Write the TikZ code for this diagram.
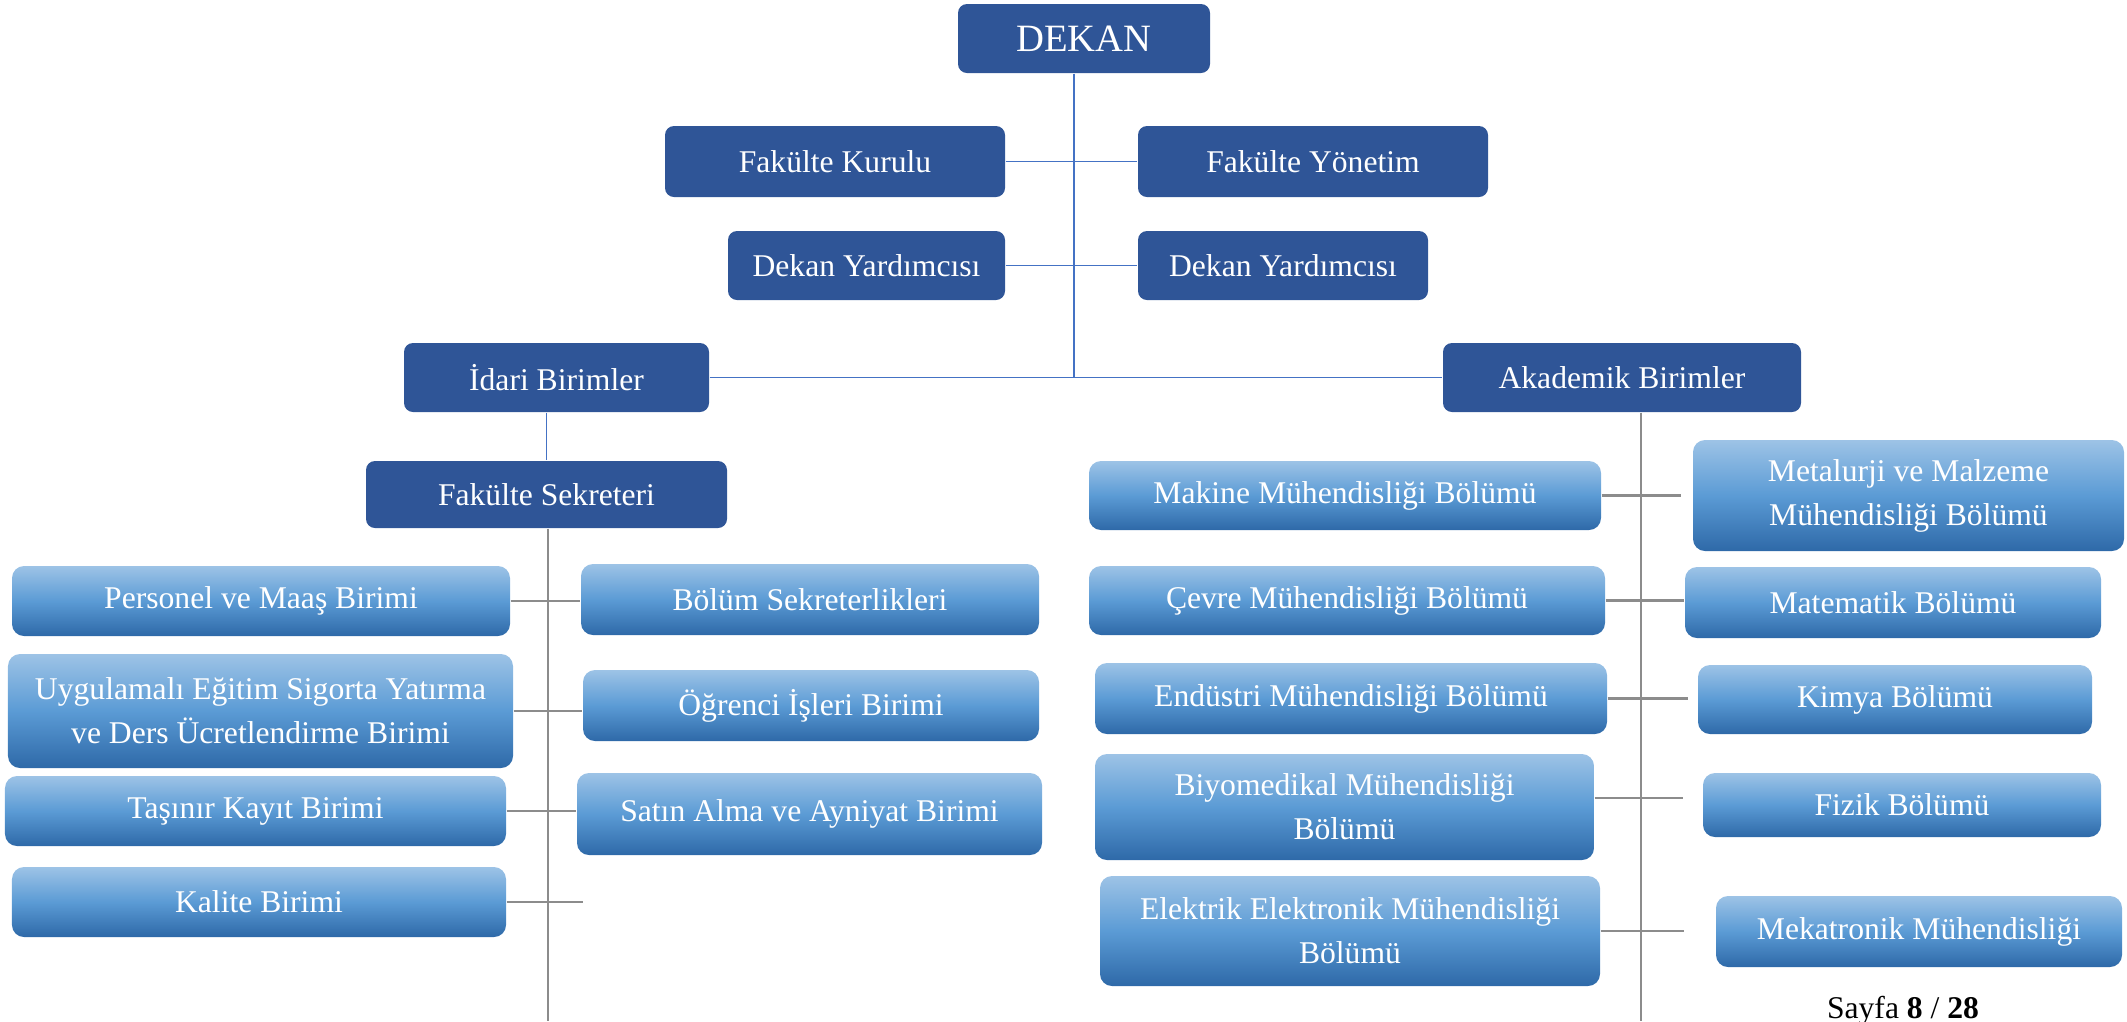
\documentclass[tikz,border=0pt]{standalone}
\usepackage{fontspec}
\setmainfont{Liberation Serif}
\usepackage{xcolor}
\usepackage{tikz}
\usetikzlibrary{positioning,calc}

\definecolor{deanblue}{HTML}{2F5597}
\definecolor{unittop}{HTML}{9DC3E6}
\definecolor{unitmid}{HTML}{5B9BD5}
\definecolor{unitbot}{HTML}{2E69A8}
\definecolor{linkblue}{HTML}{4472C4}
\definecolor{rulegray}{HTML}{8C8C8C}

\begin{document}
\begin{tikzpicture}[
    head/.style={rectangle, rounded corners=0.09cm, fill=deanblue, text=white, align=center, inner sep=0pt, font=\fontsize{9}{11}\selectfont},
    unit/.style={rectangle, rounded corners=0.12cm, top color=unittop, bottom color=unitbot, middle color=unitmid, text=white, align=center, inner sep=0pt, font=\fontsize{9}{12.5}\selectfont},
    link/.style={draw=linkblue, line width=0.5pt},
    rule/.style={draw=rulegray, line width=0.6pt}
]
\useasboundingbox (0,0) rectangle (21.27,-10.21);

% management
\node[head, minimum width=2.52cm, minimum height=0.69cm, font=\fontsize{11}{13}\selectfont] (dekan) at (10.84,-0.385) {DEKAN};
\node[head, minimum width=3.40cm, minimum height=0.71cm] (fkurul) at (8.35,-1.615) {Fakülte Kurulu};
\node[head, minimum width=3.50cm, minimum height=0.71cm] (fyonetim) at (13.13,-1.615) {Fakülte Yönetim};
\node[head, minimum width=2.77cm, minimum height=0.69cm] (dyardl) at (8.665,-2.655) {Dekan Yardımcısı};
\node[head, minimum width=2.90cm, minimum height=0.69cm] (dyardr) at (12.83,-2.655) {Dekan Yardımcısı};
\node[head, minimum width=3.05cm, minimum height=0.69cm] (idari) at (5.565,-3.775) {İdari Birimler};
\node[head, minimum width=3.58cm, minimum height=0.69cm] (akademik) at (16.22,-3.775) {Akademik Birimler};
\node[head, minimum width=3.61cm, minimum height=0.67cm] (sekreter) at (5.465,-4.945) {Fakülte Sekreteri};

% administrative units
\node[unit, minimum width=4.98cm, minimum height=0.70cm] (personel) at (2.61,-6.01) {Personel ve Maaş Birimi};
\node[unit, minimum width=5.05cm, minimum height=1.14cm] (uygulama) at (2.605,-7.11) {Uygulamalı Eğitim Sigorta Yatırma\\ve Ders Ücretlendirme Birimi};
\node[unit, minimum width=5.01cm, minimum height=0.70cm] (tasinir) at (2.555,-8.11) {Taşınır Kayıt Birimi};
\node[unit, minimum width=4.94cm, minimum height=0.70cm] (kalite) at (2.59,-9.02) {Kalite Birimi};
\node[unit, minimum width=4.58cm, minimum height=0.71cm] (bolsek) at (8.10,-5.995) {Bölüm Sekreterlikleri};
\node[unit, minimum width=4.56cm, minimum height=0.71cm] (ogrenci) at (8.11,-7.055) {Öğrenci İşleri Birimi};
\node[unit, minimum width=4.65cm, minimum height=0.82cm] (satin) at (8.095,-8.14) {Satın Alma ve Ayniyat Birimi};

% departments
\node[unit, minimum width=5.12cm, minimum height=0.69cm] (makine) at (13.45,-4.955) {Makine Mühendisliği Bölümü};
\node[unit, minimum width=5.16cm, minimum height=0.69cm] (cevre) at (13.47,-6.005) {Çevre Mühendisliği Bölümü};
\node[unit, minimum width=5.12cm, minimum height=0.71cm] (endustri) at (13.51,-6.985) {Endüstri Mühendisliği Bölümü};
\node[unit, minimum width=4.99cm, minimum height=1.06cm] (biyomed) at (13.445,-8.07) {Biyomedikal Mühendisliği\\Bölümü};
\node[unit, minimum width=5.00cm, minimum height=1.10cm] (elektrik) at (13.50,-9.31) {Elektrik Elektronik Mühendisliği\\Bölümü};
\node[unit, minimum width=4.31cm, minimum height=1.11cm] (metalurji) at (19.085,-4.955) {Metalurji ve Malzeme\\Mühendisliği Bölümü};
\node[unit, minimum width=4.16cm, minimum height=0.71cm] (matematik) at (18.93,-6.025) {Matematik Bölümü};
\node[unit, minimum width=3.94cm, minimum height=0.69cm] (kimya) at (18.95,-6.995) {Kimya Bölümü};
\node[unit, minimum width=3.98cm, minimum height=0.64cm] (fizik) at (19.02,-8.05) {Fizik Bölümü};
\node[unit, minimum width=4.06cm, minimum height=0.71cm] (mekatronik) at (19.19,-9.315) {Mekatronik Mühendisliği};

\node[anchor=base, font=\fontsize{9}{11}\selectfont, inner sep=0pt] (sayfa) at (19.03,-10.18) {Sayfa \textbf{8} / \textbf{28}};

\coordinate (hub) at (10.74,-3.775);
\coordinate (leftend) at (5.48,-10.21);
\coordinate (rightend) at (16.41,-10.21);
\coordinate (kaliteend) at (5.83,-9.02);

% blue links
\draw[link] (dekan.south -| hub) -- (hub);
\draw[link] (fkurul.east) -- (fyonetim.west);
\draw[link] (dyardl.east) -- (dyardr.west);
\draw[link] (idari.east) -- (akademik.west);
\draw[link] (idari.south -| sekreter.north) -- (sekreter.north);

% gray rules
\draw[rule] (sekreter.south -| leftend) -- (leftend);
\draw[rule] (akademik.south -| rightend) -- (rightend);
\draw[rule] (personel.east) -- (personel.east -| bolsek.west);
\draw[rule] (uygulama.east) -- (uygulama.east -| ogrenci.west);
\draw[rule] (tasinir.east) -- (tasinir.east -| satin.west);
\draw[rule] (kalite.east) -- (kaliteend);
\draw[rule, shorten >=0.11cm] (makine.east) -- (makine.east -| metalurji.west);
\draw[rule] (cevre.east) -- (cevre.east -| matematik.west);
\draw[rule, shorten >=0.09cm] (endustri.east) -- (endustri.east -| kimya.west);
\draw[rule, shorten >=0.19cm] ([yshift=0.09cm]biyomed.east) -- ([yshift=0.09cm]biyomed.east -| fizik.west);
\draw[rule, shorten >=0.31cm] (elektrik.east) -- (elektrik.east -| mekatronik.west);

\end{tikzpicture}
\end{document}
